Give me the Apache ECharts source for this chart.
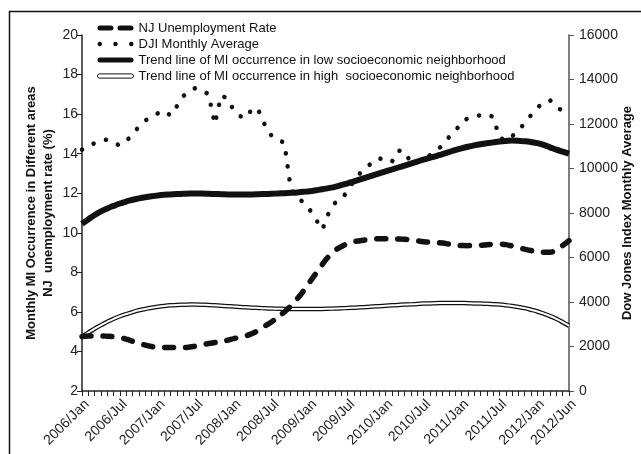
<!DOCTYPE html>
<html>
<head>
<meta charset="utf-8">
<script src="https://cdn.jsdelivr.net/npm/echarts@6/dist/echarts.min.js"></script>
<style>
  html, body { margin: 0; padding: 0; background: #fff; }
  #main { width: 641px; height: 454px; }
</style>
</head>
<body>
<div id="main"></div>
<script>
// month names used for the category axis
var monthNames = ['Jan', 'Feb', 'Mar', 'Apr', 'May', 'Jun', 'Jul', 'Aug', 'Sep', 'Oct', 'Nov', 'Dec'];
var years = [2006, 2007, 2008, 2009, 2010, 2011, 2012];
var lastMonthIndex = 77; // 2012/Jun

var categories = [];
years.forEach(function (y) {
  monthNames.forEach(function (m) {
    if (categories.length <= lastMonthIndex) categories.push(y + '/' + m);
  });
});

// NJ unemployment rate (%), left axis
var njUnemployment = [
  4.75, 4.78, 4.78, 4.78, 4.77, 4.75, 4.70, 4.62, 4.52, 4.42, 4.32, 4.25,
  4.21, 4.20, 4.20, 4.20, 4.20, 4.22, 4.27, 4.33, 4.40, 4.45, 4.50, 4.57,
  4.65, 4.72, 4.80, 4.92, 5.10, 5.30, 5.50, 5.75, 6.00, 6.30, 6.65, 7.05,
  7.50, 7.95, 8.40, 8.80, 9.10, 9.30, 9.45, 9.55, 9.60, 9.65, 9.68, 9.70,
  9.70, 9.70, 9.69, 9.67, 9.63, 9.59, 9.55, 9.52, 9.50, 9.48, 9.43, 9.38,
  9.36, 9.35, 9.36, 9.37, 9.40, 9.42, 9.43, 9.40, 9.33, 9.25, 9.17, 9.10,
  9.05, 9.02, 9.02, 9.15, 9.35, 9.60
];

// DJI monthly average, right axis
var djiAverage = [
  10850, 10950, 11150, 11250, 11300, 11150, 11030, 11250, 11500, 11900, 12150, 12350,
  12480, 12600, 12380, 12800, 13250, 13500, 13620, 13480, 13350, 12000, 13280, 13150,
  12600, 12350, 12270, 12750, 12550, 11900, 11450, 11300, 11150, 9100, 8650, 8500,
  8150, 7700, 7250, 8000, 8450, 8600, 9000, 9450, 9800, 10050, 10300, 10470,
  10320, 10300, 10800, 10780, 10250, 10300, 10370, 10600, 10790, 11050, 11400, 11650,
  12100, 12250, 12320, 12400, 12450, 12320, 11400, 11250, 11450, 11700, 12050, 12400,
  12740, 12950, 13070, 12750, 12600, 12550
];

// trend of MI occurrence, low socioeconomic neighborhood
var lowTrend = [
  10.45, 10.68, 10.90, 11.08, 11.23, 11.36, 11.48, 11.58, 11.67, 11.74, 11.80, 11.85,
  11.89, 11.92, 11.94, 11.96, 11.97, 11.98, 11.98, 11.98, 11.97, 11.96, 11.95, 11.94,
  11.93, 11.93, 11.93, 11.94, 11.95, 11.96, 11.97, 11.99, 12.00, 12.02, 12.04, 12.07,
  12.10, 12.15, 12.20, 12.26, 12.32, 12.41, 12.50, 12.60, 12.70, 12.80, 12.90, 13.00,
  13.10, 13.20, 13.30, 13.40, 13.50, 13.60, 13.70, 13.79, 13.88, 13.98, 14.08, 14.18,
  14.27, 14.35, 14.42, 14.48, 14.53, 14.57, 14.61, 14.64, 14.66, 14.65, 14.63, 14.59,
  14.53, 14.44, 14.32, 14.20, 14.10, 14.00
];

// trend of MI occurrence, high socioeconomic neighborhood
var highTrend = [
  4.75, 4.95, 5.15, 5.33, 5.50, 5.65, 5.78, 5.89, 5.99, 6.08, 6.15, 6.21,
  6.26, 6.30, 6.33, 6.35, 6.36, 6.37, 6.37, 6.36, 6.35, 6.33, 6.31, 6.29,
  6.27, 6.25, 6.23, 6.21, 6.20, 6.18, 6.17, 6.16, 6.15, 6.14, 6.14, 6.14,
  6.14, 6.15, 6.15, 6.16, 6.17, 6.18, 6.20, 6.21, 6.23, 6.25, 6.27, 6.29,
  6.31, 6.33, 6.35, 6.37, 6.38, 6.40, 6.42, 6.43, 6.44, 6.45, 6.45, 6.45,
  6.45, 6.44, 6.43, 6.42, 6.41, 6.39, 6.37, 6.34, 6.30, 6.25, 6.19, 6.11,
  6.02, 5.91, 5.79, 5.65, 5.48, 5.30
];

var NAME_NJ = 'NJ Unemployment Rate';
var NAME_DJI = 'DJI Monthly Average';
var NAME_LOW = 'Trend line of MI occurrence in low socioeconomic neighborhood';
var NAME_HIGH = 'Trend line of MI occurrence in high  socioeconomic neighborhood';

var font = "'Liberation Sans', Arial, Helvetica, sans-serif";

var chart = echarts.init(document.getElementById('main'), null, { renderer: 'canvas' });

var option = {
  backgroundColor: '#ffffff',
  animation: false,
  textStyle: { fontFamily: font, color: '#222' },
  grid: { left: 82, right: 72, top: 35, bottom: 63, outerBoundsMode: 'none' },
  graphic: [{
    type: 'polyline',
    shape: { points: [[9.5, 454], [9.5, 11.5], [641, 11.5]] },
    style: { stroke: '#111', lineWidth: 1.5, fill: null },
    silent: true
  }],
  legend: {
    orient: 'vertical',
    left: 97,
    top: 20,
    padding: 0,
    itemGap: 0,
    itemWidth: 36,
    itemHeight: 7,
    textStyle: { fontFamily: font, fontSize: 13, color: '#111', lineHeight: 16 },
    data: [
      {
        name: NAME_NJ,
        icon: 'path://M2.5,0 L13.5,0 A2.5,2.5 0 0 1 13.5,5 L2.5,5 A2.5,2.5 0 0 1 2.5,0 Z M22.5,0 L33.5,0 A2.5,2.5 0 0 1 33.5,5 L22.5,5 A2.5,2.5 0 0 1 22.5,0 Z',
        itemStyle: { color: '#111' }
      },
      {
        name: NAME_DJI,
        icon: 'path://M0,2 A2,2 0 1 0 4,2 A2,2 0 1 0 0,2 Z M14,2 A2,2 0 1 0 18,2 A2,2 0 1 0 14,2 Z M28,2 A2,2 0 1 0 32,2 A2,2 0 1 0 28,2 Z',
        itemStyle: { color: '#111' }
      },
      {
        name: NAME_LOW,
        icon: 'path://M2.5,0 L33.5,0 A2.5,2.5 0 0 1 33.5,5 L2.5,5 A2.5,2.5 0 0 1 2.5,0 Z',
        itemStyle: { color: '#111' }
      },
      {
        name: NAME_HIGH,
        icon: 'path://M2,0 L32,0 A2,2 0 0 1 32,4 L2,4 A2,2 0 0 1 2,0 Z',
        itemStyle: { color: '#fff', borderColor: '#111', borderWidth: 1 }
      }
    ]
  },
  xAxis: {
    type: 'category',
    data: categories,
    boundaryGap: false,
    axisLine: { lineStyle: { color: '#222', width: 1.5 } },
    axisTick: { show: true, interval: 0, length: 5, lineStyle: { color: '#222', width: 1 } },
    axisLabel: {
      interval: function (index) { return index % 6 === 0 || index === lastMonthIndex; },
      rotate: 45,
      margin: 6,
      verticalAlign: 'top',
      fontSize: 14,
      color: '#222',
      fontFamily: font
    },
    splitLine: { show: false }
  },
  yAxis: [
    {
      type: 'value',
      min: 2,
      max: 20,
      interval: 2,
      position: 'left',
      name: 'Monthly MI Occurrence in Different areas\nNJ  unemployment rate (%)',
      nameLocation: 'middle',
      nameGap: 25,
      nameMoveOverlap: false,
      nameTextStyle: { fontSize: 13, fontWeight: 'bold', color: '#111', lineHeight: 17, fontFamily: font },
      axisLine: { show: true, lineStyle: { color: '#222', width: 1.5 } },
      axisTick: { show: true, length: 5, lineStyle: { color: '#222' } },
      axisLabel: { fontSize: 14, color: '#222', margin: 4, fontFamily: font },
      splitLine: { show: false }
    },
    {
      type: 'value',
      min: 0,
      max: 16000,
      interval: 2000,
      position: 'right',
      name: 'Dow Jones Index Monthly Average',
      nameLocation: 'middle',
      nameGap: 52,
      nameRotate: 90,
      nameMoveOverlap: false,
      nameTextStyle: { fontSize: 13, fontWeight: 'bold', color: '#111', fontFamily: font },
      axisLine: { show: true, lineStyle: { color: '#555', width: 1.5 } },
      axisTick: { show: true, length: 5, lineStyle: { color: '#555' } },
      axisLabel: {
        fontSize: 14, color: '#222', margin: 10, fontFamily: font,
        formatter: function (v) { return String(v); }
      },
      splitLine: { show: false }
    }
  ],
  series: [
    {
      name: NAME_HIGH,
      type: 'line',
      yAxisIndex: 0,
      data: highTrend,
      smooth: true,
      symbol: 'none',
      z: 2,
      lineStyle: { color: '#111', width: 4.5 }
    },
    {
      name: 'high-inner',
      type: 'line',
      yAxisIndex: 0,
      data: highTrend,
      smooth: true,
      symbol: 'none',
      z: 3,
      silent: true,
      lineStyle: { color: '#fff', width: 2 }
    },
    {
      name: NAME_LOW,
      type: 'line',
      yAxisIndex: 0,
      data: lowTrend,
      smooth: true,
      symbol: 'none',
      z: 4,
      lineStyle: { color: '#111', width: 6 }
    },
    {
      name: NAME_NJ,
      type: 'line',
      yAxisIndex: 0,
      data: njUnemployment,
      smooth: true,
      symbol: 'none',
      z: 5,
      lineStyle: { color: '#111', width: 5.5, type: [9, 12], cap: 'round' }
    },
    {
      name: NAME_DJI,
      type: 'line',
      yAxisIndex: 1,
      data: djiAverage,
      symbol: 'none',
      z: 6,
      lineStyle: { color: '#111', width: 4.5, type: [0.1, 13], cap: 'round' }
    }
  ]
};

chart.setOption(option);
</script>
</body>
</html>
